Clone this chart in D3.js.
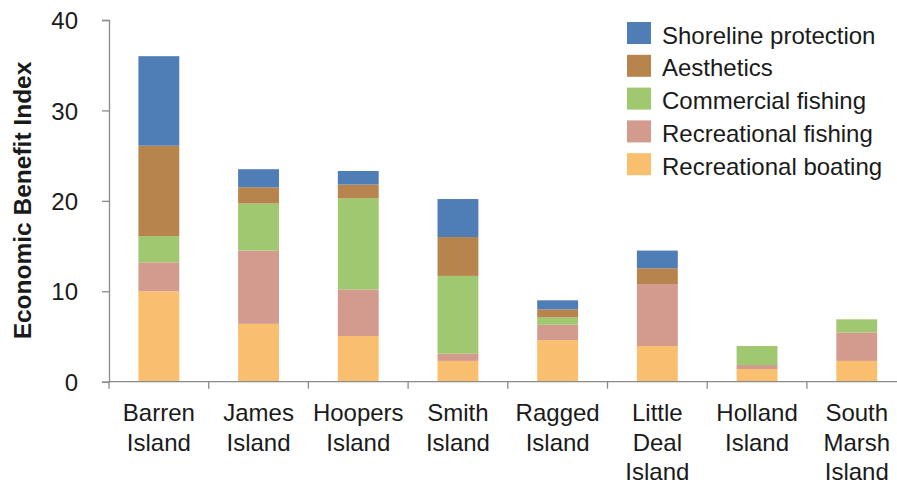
<!DOCTYPE html>
<html>
<head>
<meta charset="utf-8">
<script src="https://cdn.jsdelivr.net/npm/d3@7/dist/d3.min.js"></script>
<style>
  html, body { margin: 0; padding: 0; background: #fff; }
  svg { display: block; font-family: "Liberation Sans", Arial, sans-serif; }
</style>
</head>
<body>
<svg id="chart" width="897" height="485"></svg>
<script>
const categories = ["Barren Island", "James Island", "Hoopers Island", "Smith Island", "Ragged Island", "Little Deal Island", "Holland Island", "South Marsh Island"];
const seriesNames = ["Recreational boating", "Recreational fishing", "Commercial fishing", "Aesthetics", "Shoreline protection"];
const recreationalBoating = [10.0, 6.4, 5.05, 2.3, 4.6, 3.95, 1.4, 2.3];
const recreationalFishing = [3.2, 8.1, 5.15, 0.8, 1.7, 6.85, 0.45, 3.15];
const commercialFishing = [2.9, 5.2, 10.1, 8.6, 0.8, 0.0, 2.1, 1.45];
const aesthetics = [10.0, 1.8, 1.5, 4.3, 0.9, 1.75, 0.0, 0.0];
const shorelineProtection = [9.9, 2.0, 1.5, 4.2, 1.0, 1.95, 0.0, 0.0];
const yTicks = [0, 10, 20, 30, 40];
const colors = ["#f9bf6f", "#d39a8e", "#a0c870", "#b8844e", "#4f7db5"];
const legendOrder = ["Shoreline protection", "Aesthetics", "Commercial fishing", "Recreational fishing", "Recreational boating"];

const seriesValues = [recreationalBoating, recreationalFishing, commercialFishing, aesthetics, shorelineProtection];
const table = categories.map((c, i) => {
  const row = { category: c };
  seriesNames.forEach((s, j) => row[s] = seriesValues[j][i]);
  return row;
});

const svg = d3.select("#chart");
const x0 = 109, yTop = 20, yBottom = 381.7;
const x = d3.scaleBand().domain(categories).range([x0, x0 + 8 * 99.7]).paddingInner(0.59).paddingOuter(0.295);
const y = d3.scaleLinear().domain([0, 40]).range([yBottom, yTop]);
const color = d3.scaleOrdinal().domain(seriesNames).range(colors);

const stacked = d3.stack().keys(seriesNames)(table);

svg.append("g").selectAll("g").data(stacked).join("g")
  .attr("fill", d => color(d.key))
  .selectAll("rect").data(d => d).join("rect")
  .attr("x", d => x(d.data.category))
  .attr("width", x.bandwidth())
  .attr("y", d => y(d[1]))
  .attr("height", d => Math.max(0, y(d[0]) - y(d[1])));

const axisColor = "#8a8a8a";
const textColor = "#1a1a1a";

// Y axis
const yAxis = svg.append("g").attr("transform", `translate(${x0},0)`)
  .call(d3.axisLeft(y).tickValues(yTicks).tickSize(7).tickPadding(24).tickFormat(d3.format("d")));
yAxis.select(".domain").attr("stroke", axisColor).attr("stroke-width", 1.3);
yAxis.selectAll(".tick line").attr("stroke", axisColor).attr("stroke-width", 1.3);
yAxis.selectAll(".tick text").attr("fill", textColor).style("font-size", "24px").attr("dy", "0.36em");

// X axis (ticks at category boundaries)
const step = x.step();
const boundaries = d3.range(categories.length + 1).map(i => x0 + i * step);
const xg = svg.append("g");
xg.append("line").attr("x1", x0).attr("x2", x0 + categories.length * step)
  .attr("y1", yBottom).attr("y2", yBottom).attr("stroke", axisColor).attr("stroke-width", 1.3);
xg.selectAll("line.tk").data(boundaries).join("line").attr("class", "tk")
  .attr("x1", d => d).attr("x2", d => d).attr("y1", yBottom).attr("y2", yBottom + 7)
  .attr("stroke", axisColor).attr("stroke-width", 1.3);

const labels = xg.selectAll("text.cat").data(categories).join("text").attr("class", "cat")
  .attr("x", d => x(d) + x.bandwidth() / 2)
  .attr("y", 421)
  .attr("text-anchor", "middle")
  .attr("fill", textColor)
  .style("font-size", "24px");
labels.each(function(d) {
  const words = d.split(" ");
  const t = d3.select(this);
  words.forEach((w, i) => {
    t.append("tspan").attr("x", x(d) + x.bandwidth() / 2).attr("dy", i === 0 ? 0 : 29.5).text(w);
  });
});

// Y title
svg.append("text")
  .attr("transform", `translate(31,200.5) rotate(-90)`)
  .attr("text-anchor", "middle")
  .attr("fill", textColor)
  .style("font-size", "24.5px").style("font-weight", "bold")
  .text("Economic Benefit Index");

// Legend
const legend = svg.append("g").selectAll("g").data(legendOrder).join("g")
  .attr("transform", (d, i) => `translate(627,${22 + i * 32.8})`);
legend.append("rect").attr("width", 24).attr("height", 22).attr("fill", d => color(d));
legend.append("text").attr("x", 35).attr("y", 21.5).attr("fill", textColor)
  .style("font-size", "24px").text(d => d);
</script>
</body>
</html>
